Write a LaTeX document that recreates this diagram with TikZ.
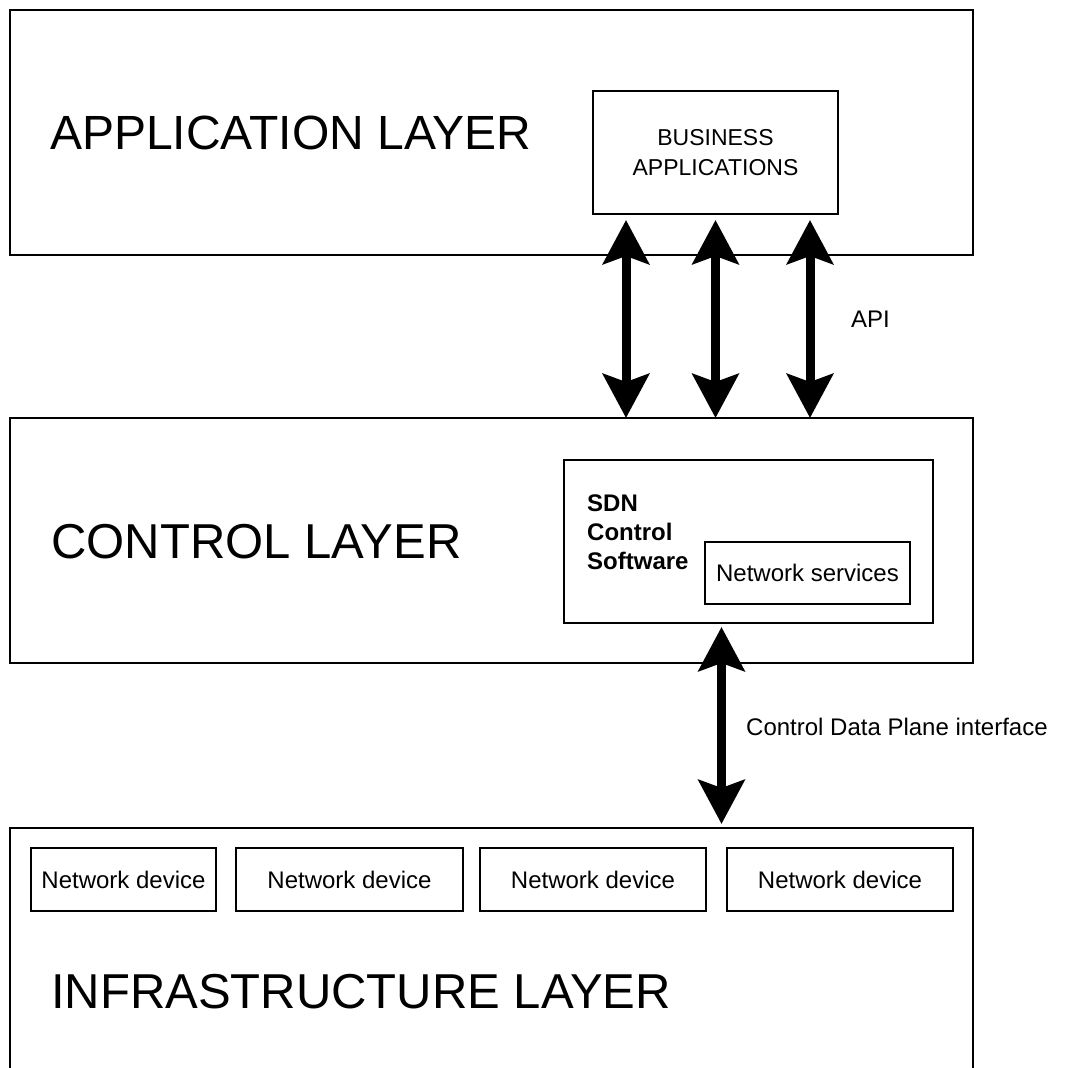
\documentclass[tikz,border=0pt]{standalone}
\usepackage{fontspec}
\setmainfont{Liberation Sans}
\usetikzlibrary{arrows.meta,calc}
\begin{document}
\begin{tikzpicture}[x=1pt,y=-1pt,
  layer/.style={draw, line width=1.5pt, anchor=north west, inner sep=0pt, outer sep=0pt},
  box/.style={draw, line width=1.5pt, anchor=north west, inner sep=0pt, outer sep=0pt,
    align=center, font=\fontsize{24}{30}\selectfont},
  title/.style={anchor=west, inner sep=0pt, font=\fontsize{48}{58}\selectfont},
  note/.style={inner sep=0pt, font=\fontsize{24}{29}\selectfont},
  dbl/.style={line width=9pt,
    {Stealth[length=44pt,width=46pt,inset=8pt]}-{Stealth[length=44pt,width=46pt,inset=8pt]}}
]
\useasboundingbox (0,0) rectangle (1066,1068);

% the three layers
\node[layer, minimum width=963pt, minimum height=245pt] (app) at (10,10) {};
\node[layer, minimum width=963pt, minimum height=245pt] (ctrl) at (10,418) {};
\node[layer, minimum width=963pt, minimum height=270pt] (infra) at (10,828) {};

\node[title] (apptitle) at (50,132.5) {APPLICATION LAYER};
\node[title, font=\fontsize{49}{58}\selectfont] (ctrltitle) at (51,542) {CONTROL LAYER};
\node[title, font=\fontsize{49}{58}\selectfont] (infratitle) at (51,991.5) {INFRASTRUCTURE LAYER};

% application layer content
\node[box, minimum width=245pt, minimum height=123pt, font=\fontsize{23}{30}\selectfont]
  (biz) at (593,91) {BUSINESS\\APPLICATIONS};

% control layer content
\node[box, minimum width=369pt, minimum height=163pt] (sdn) at (564,460) {};
\node[note, anchor=west, align=left, font=\bfseries\fontsize{24}{29}\selectfont]
  (sdntext) at (587,532) {SDN\\Control\\Software};
\node[box, minimum width=205pt, minimum height=62pt] (ns) at (705,542) {Network services};

% infrastructure layer content
\node[box, minimum width=185pt, minimum height=63pt] (d1) at (31,848) {Network device};
\node[box, minimum width=227pt, minimum height=63pt] (d2) at (236,848) {Network device};
\node[box, minimum width=226pt, minimum height=63pt] (d3) at (480,848) {Network device};
\node[box, minimum width=226pt, minimum height=63pt] (d4) at (727,848) {Network device};

% interfaces
\draw[dbl] ($(biz.south)+(-89.5,6)$) -- ($(biz.south |- ctrl.north)+(-89.5,0)$);
\draw[dbl] ($(biz.south)+(0,6)$) -- ($(biz.south |- ctrl.north)+(0,0)$);
\draw[dbl] ($(biz.south)+(94.5,6)$) -- ($(biz.south |- ctrl.north)+(94.5,0)$);
\node[note, anchor=base west] (api) at (851,327) {API};

\draw[dbl] ($(sdn.south)+(-27,4)$) -- ($(sdn.south |- infra.north)+(-27,-4)$);
\node[note, anchor=base west] (cdpi) at (746,735) {Control Data Plane interface};
\end{tikzpicture}
\end{document}
